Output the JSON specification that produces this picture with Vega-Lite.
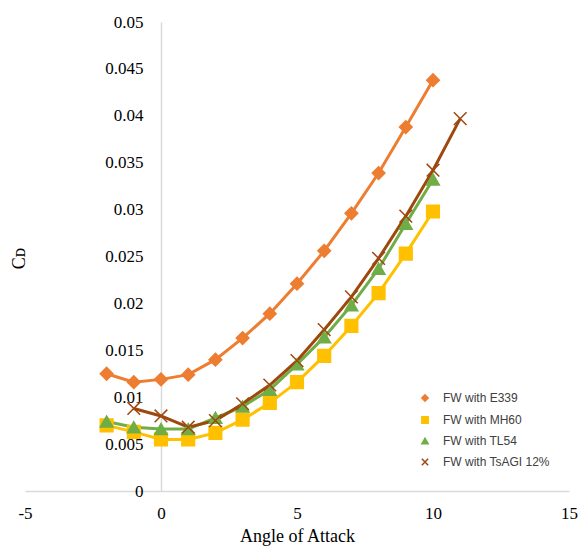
{
  "$schema": "https://vega.github.io/schema/vega-lite/v6.json",
  "width": 544,
  "height": 469,
  "autosize": {"type": "none"},
  "padding": {"left": 25, "top": 22, "right": 12, "bottom": 65},
  "background": "white",
  "config": {
    "view": {"stroke": null},
    "axis": {"grid": false, "ticks": false, "domainColor": "#d9d9d9", "domainWidth": 1.5, "labelColor": "#000000", "labelFont": "Liberation Serif", "labelFontSize": 17, "titleFont": "Liberation Serif", "titleFontWeight": "normal", "titleColor": "#000000"}
  },
  "data": {
    "values": [
      {"aoa": -2, "cd": 0.0125, "series": "FW with E339"},
      {"aoa": -1, "cd": 0.0116, "series": "FW with E339"},
      {"aoa": 0, "cd": 0.0119, "series": "FW with E339"},
      {"aoa": 1, "cd": 0.0124, "series": "FW with E339"},
      {"aoa": 2, "cd": 0.0140, "series": "FW with E339"},
      {"aoa": 3, "cd": 0.0163, "series": "FW with E339"},
      {"aoa": 4, "cd": 0.0189, "series": "FW with E339"},
      {"aoa": 5, "cd": 0.0221, "series": "FW with E339"},
      {"aoa": 6, "cd": 0.0256, "series": "FW with E339"},
      {"aoa": 7, "cd": 0.0296, "series": "FW with E339"},
      {"aoa": 8, "cd": 0.0339, "series": "FW with E339"},
      {"aoa": 9, "cd": 0.0388, "series": "FW with E339"},
      {"aoa": 10, "cd": 0.0438, "series": "FW with E339"},
      {"aoa": -2, "cd": 0.0070, "series": "FW with MH60"},
      {"aoa": -1, "cd": 0.0063, "series": "FW with MH60"},
      {"aoa": 0, "cd": 0.0055, "series": "FW with MH60"},
      {"aoa": 1, "cd": 0.0055, "series": "FW with MH60"},
      {"aoa": 2, "cd": 0.0062, "series": "FW with MH60"},
      {"aoa": 3, "cd": 0.0076, "series": "FW with MH60"},
      {"aoa": 4, "cd": 0.0094, "series": "FW with MH60"},
      {"aoa": 5, "cd": 0.0116, "series": "FW with MH60"},
      {"aoa": 6, "cd": 0.0144, "series": "FW with MH60"},
      {"aoa": 7, "cd": 0.0176, "series": "FW with MH60"},
      {"aoa": 8, "cd": 0.0211, "series": "FW with MH60"},
      {"aoa": 9, "cd": 0.0253, "series": "FW with MH60"},
      {"aoa": 10, "cd": 0.0298, "series": "FW with MH60"},
      {"aoa": -2, "cd": 0.0074, "series": "FW with TL54"},
      {"aoa": -1, "cd": 0.0068, "series": "FW with TL54"},
      {"aoa": 0, "cd": 0.0066, "series": "FW with TL54"},
      {"aoa": 1, "cd": 0.0066, "series": "FW with TL54"},
      {"aoa": 2, "cd": 0.0078, "series": "FW with TL54"},
      {"aoa": 3, "cd": 0.0090, "series": "FW with TL54"},
      {"aoa": 4, "cd": 0.0108, "series": "FW with TL54"},
      {"aoa": 5, "cd": 0.0135, "series": "FW with TL54"},
      {"aoa": 6, "cd": 0.0164, "series": "FW with TL54"},
      {"aoa": 7, "cd": 0.0198, "series": "FW with TL54"},
      {"aoa": 8, "cd": 0.0237, "series": "FW with TL54"},
      {"aoa": 9, "cd": 0.0285, "series": "FW with TL54"},
      {"aoa": 10, "cd": 0.0332, "series": "FW with TL54"},
      {"aoa": -1, "cd": 0.0088, "series": "FW with TsAGI 12%"},
      {"aoa": 0, "cd": 0.0080, "series": "FW with TsAGI 12%"},
      {"aoa": 1, "cd": 0.0068, "series": "FW with TsAGI 12%"},
      {"aoa": 2, "cd": 0.0075, "series": "FW with TsAGI 12%"},
      {"aoa": 3, "cd": 0.0093, "series": "FW with TsAGI 12%"},
      {"aoa": 4, "cd": 0.0113, "series": "FW with TsAGI 12%"},
      {"aoa": 5, "cd": 0.0139, "series": "FW with TsAGI 12%"},
      {"aoa": 6, "cd": 0.0172, "series": "FW with TsAGI 12%"},
      {"aoa": 7, "cd": 0.0207, "series": "FW with TsAGI 12%"},
      {"aoa": 8, "cd": 0.0248, "series": "FW with TsAGI 12%"},
      {"aoa": 9, "cd": 0.0293, "series": "FW with TsAGI 12%"},
      {"aoa": 10, "cd": 0.0342, "series": "FW with TsAGI 12%"},
      {"aoa": 11, "cd": 0.0397, "series": "FW with TsAGI 12%"}
    ]
  },
  "encoding": {
    "x": {
      "field": "aoa", "type": "quantitative",
      "scale": {"domain": [-5, 15], "nice": false, "zero": false},
      "axis": {"values": [-5, 0, 5, 10, 15], "labelExpr": "'' + datum.value", "labelPadding": 14, "labelFlush": false, "title": "Angle of Attack", "titleFontSize": 18, "titlePadding": 6}
    },
    "y": {
      "field": "cd", "type": "quantitative",
      "scale": {"domain": [0, 0.05], "nice": false},
      "axis": {"values": [0, 0.005, 0.01, 0.015, 0.02, 0.025, 0.03, 0.035, 0.04, 0.045, 0.05], "format": "~g", "offset": -136, "labelPadding": 18, "title": "Cᴅ", "titleFontSize": 18, "titleAngle": -90, "titleX": -142, "titleY": 236, "titleAlign": "center", "titleBaseline": "middle"}
    },
    "color": {
      "field": "series", "type": "nominal",
      "scale": {"domain": ["FW with E339", "FW with MH60", "FW with TL54", "FW with TsAGI 12%"], "range": ["#ED7D31", "#FFC000", "#70AD47", "#9E480E"]},
      "legend": {"orient": "none", "legendX": 394, "legendY": 370, "title": null, "labelFont": "Liberation Sans", "labelFontSize": 12, "labelColor": "#404040", "symbolSize": 40, "rowPadding": 8, "labelOffset": 12, "symbolStrokeWidth": 1.5}
    }
  },
  "layer": [
    {
      "mark": {"type": "line", "strokeWidth": 3},
      "encoding": {"detail": {"field": "series"}}
    },
    {
      "mark": {"type": "point", "filled": true, "strokeWidth": 1.5, "opacity": 1, "size": 160},
      "encoding": {
        "shape": {
          "field": "series", "type": "nominal",
          "scale": {"domain": ["FW with E339", "FW with MH60", "FW with TL54", "FW with TsAGI 12%"], "range": ["diamond", "square", "triangle-up", "M-1,-1L1,1M-1,1L1,-1"]}
        },
        "stroke": {
          "field": "series", "type": "nominal", "legend": null,
          "scale": {"domain": ["FW with E339", "FW with MH60", "FW with TL54", "FW with TsAGI 12%"], "range": ["#ED7D31", "#FFC000", "#70AD47", "#9E480E"]}
        }
      }
    }
  ]
}
